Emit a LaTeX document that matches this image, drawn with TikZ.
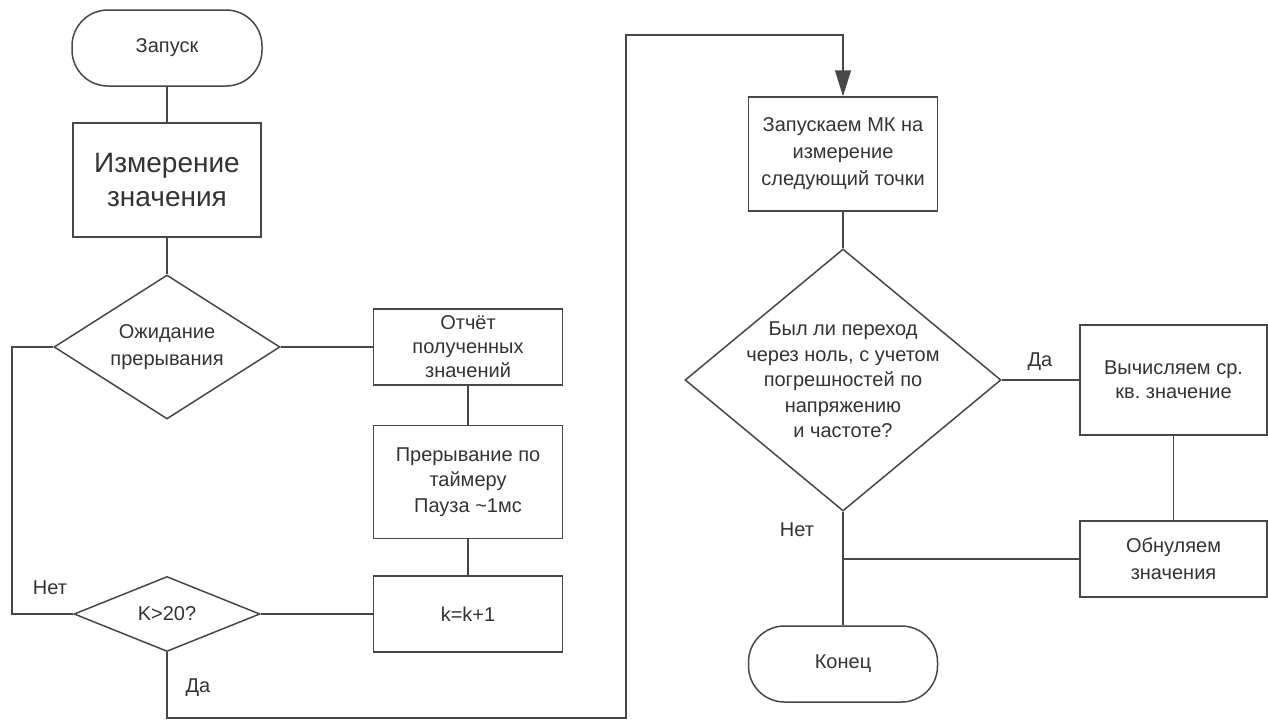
\documentclass[tikz,border=0pt]{standalone}
\usepackage{fontspec}
\setmainfont{Liberation Sans}
\usetikzlibrary{shapes.geometric,arrows.meta}
\begin{document}
\frenchspacing
\begin{tikzpicture}[x=1pt,y=-1pt,
  ln/.style={draw=black!72, line width=1.5pt},
  txt/.style={text=black!80, font=\fontsize{20}{25}\selectfont, align=center},
  procbox/.style={ln, txt, rectangle, inner sep=0pt},
  term/.style={ln, txt, rectangle, rounded corners=36pt, minimum width=190pt, minimum height=76pt, inner sep=0pt},
  dec/.style={ln, diamond, inner sep=0pt},
  dlbl/.style={txt},
  conn/.style={draw=black!72, line width=1.5pt}]
\useasboundingbox (0,0) rectangle (1268,720);
% nodes
\node[term] (start) at (167,48) {Запуск};
\node[procbox, minimum width=188pt, minimum height=114pt, font=\fontsize{28}{34}\selectfont] (meas) at (167,180) {Измерение\\значения};
\node[dec, minimum width=226pt, minimum height=144pt, label={[dlbl, font=\fontsize{20}{27}\selectfont]center:{Ожидание\\прерывания}}] (wait) at (167,347) {};
\node[procbox, minimum width=189pt, minimum height=76pt, font=\fontsize{20}{24}\selectfont] (rep) at (468,347) {Отчёт\\полученных\\значений};
\node[procbox, minimum width=189pt, minimum height=113pt, font=\fontsize{20}{25.5}\selectfont] (tim) at (468,482) {Прерывание по\\таймеру\\Пауза \textasciitilde1мс};
\node[procbox, minimum width=189pt, minimum height=76pt] (inc) at (468,614) {k=k+1};
\node[dec, minimum width=186pt, minimum height=75pt, label={[dlbl]center:{K>20?}}] (k20) at (167,614) {};
\node[procbox, minimum width=189pt, minimum height=114pt, font=\fontsize{20}{27}\selectfont] (launch) at (843,154) {Запускаем МК на\\измерение\\следующий точки};
\node[dec, minimum width=316pt, minimum height=262pt, label={[dlbl, font=\fontsize{20}{25.5}\selectfont]center:{Был ли переход\\через ноль, с учетом\\погрешностей по\\напряжению\\и частоте?}}] (zero) at (843,380) {};
\node[procbox, minimum width=187pt, minimum height=110pt, font=\fontsize{20}{24}\selectfont] (calc) at (1173.5,380) {Вычисляем ср.\\кв. значение};
\node[procbox, minimum width=187pt, minimum height=76pt, font=\fontsize{20}{27}\selectfont] (reset) at (1173.5,559) {Обнуляем\\значения};
\node[term, minimum width=189pt] (end) at (843,664) {Конец};
% labels
\node[txt] (no1) at (50,588) {Нет};
\node[txt] (yes1) at (198,688) {Да};
\node[txt] (yes2) at (1040,362) {Да};
\node[txt] (no2) at (797,530) {Нет};
% coordinates
\coordinate (c1) at (12,614);
\coordinate (c2) at (12,347);
\coordinate (c3) at (167,718);
\coordinate (c4) at (626,718);
\coordinate (c5) at (626,35);
\coordinate (c6) at (843,35);
\coordinate (c7) at (reset.west -| zero.south);
% connectors
\draw[conn] (start.south) -- (meas.north);
\draw[conn] (meas.south) -- (wait.north);
\draw[conn] (wait.east) -- (rep.west);
\draw[conn] (rep.south) -- (tim.north);
\draw[conn] (tim.south) -- (inc.north);
\draw[conn] (inc.west) -- (k20.east);
\draw[conn] (k20.west) -- (c1) -- (c2) -- (wait.west);
\draw[conn, -{Triangle[length=26pt,width=16pt]}] (k20.south) -- (c3) -- (c4) -- (c5) -- (c6) -- (launch.north);
\draw[conn] (launch.south) -- (zero.north);
\draw[conn] (zero.east) -- (calc.west);
\draw[conn] (calc.south) -- (reset.north);
\draw[conn] (reset.west) -- (c7);
\draw[conn] (zero.south) -- (end.north);
\end{tikzpicture}
\end{document}
